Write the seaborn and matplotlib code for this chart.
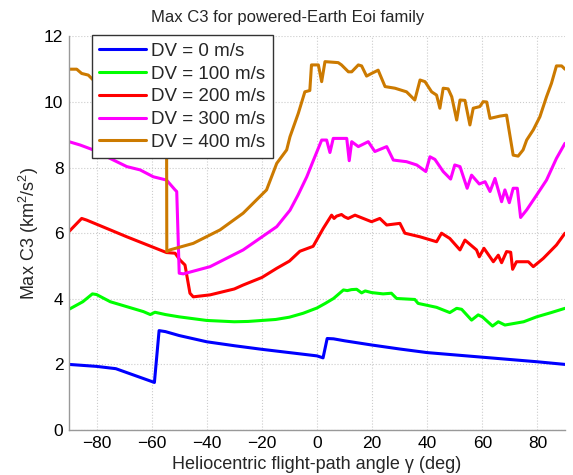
import numpy as np
import pandas as pd
import matplotlib
matplotlib.use('Agg')
import matplotlib.pyplot as plt
import seaborn as sns

# Heliocentric flight-path angle (deg) and max C3 (km^2/s^2)
gamma_dv0 = [-90, -80, -73, -59, -57.3, -55, -50, -40, -30, -20, -10, 0, 2.2, 3.7, 6, 10,
             20, 30, 40, 50, 60, 70, 80, 90]
c3_dv0 = [2.0, 1.94, 1.87, 1.45, 3.03, 3.0, 2.88, 2.69, 2.57, 2.46, 2.36, 2.26, 2.2, 2.79,
          2.78, 2.72, 2.59, 2.47, 2.36, 2.29, 2.22, 2.15, 2.08, 2.0]

gamma_dv100 = [-90, -85, -81.5, -80, -75, -69, -63, -60.5, -58.8, -55, -50, -40, -30, -25,
               -15, -10, -5, 0, 3, 6, 9.6, 11, 12.5, 14.4, 16.2, 17.5, 19.8, 24, 27, 28.9,
               35.5, 36.7, 43.4, 48.2, 50.7, 52.5, 56.1, 58.5, 60, 63.7, 65.8, 68.2, 75,
               79.7, 85, 90]
c3_dv100 = [3.68, 3.91, 4.15, 4.13, 3.91, 3.76, 3.61, 3.52, 3.59, 3.52, 3.45, 3.34, 3.3,
            3.31, 3.37, 3.44, 3.56, 3.72, 3.86, 4.01, 4.27, 4.25, 4.28, 4.29, 4.18, 4.24,
            4.19, 4.15, 4.17, 4.01, 3.98, 3.86, 3.74, 3.58, 3.71, 3.68, 3.35, 3.51, 3.45,
            3.17, 3.3, 3.2, 3.3, 3.45, 3.58, 3.71]

gamma_dv200 = [-90, -85.4, -83.6, -75, -69, -63, -57, -54.6, -51.5, -49.7, -47.9, -46.1,
               -44.9, -38.8, -30, -26.8, -20, -14.6, -10, -6.2, -1.4, 2.3, 5.3, 6.2, 7.1,
               8.9, 10, 11.3, 13.8, 16.8, 19.8, 22.8, 25.3, 30.1, 31.9, 37.4, 43.4, 45.2,
               48.2, 51.9, 53.7, 57.9, 58.9, 60.6, 64, 65.8, 67, 68.8, 70.3, 71, 72.4,
               76.7, 78.5, 82.1, 86.9, 90]
c3_dv200 = [6.05, 6.45, 6.4, 6.1, 5.89, 5.69, 5.49, 5.41, 5.39, 5.18, 5.03, 4.17, 4.06,
            4.12, 4.3, 4.42, 4.65, 4.93, 5.15, 5.45, 5.6, 6.15, 6.55, 6.45, 6.52, 6.57, 6.5,
            6.45, 6.55, 6.45, 6.35, 6.45, 6.25, 6.3, 6.0, 5.89, 5.74, 6.0, 5.84, 5.49,
            5.79, 5.49, 5.28, 5.54, 5.13, 5.33, 5.1, 5.44, 5.42, 4.9, 5.13, 5.13, 4.98,
            5.23, 5.64, 6.0]

gamma_dv300 = [-90, -86, -81.2, -75.1, -69, -64.2, -59.4, -57, -54.6, -51.5, -50.9, -50,
               -48.5, -38.8, -26.8, -14.6, -9.8, -6.9, -3.7, -1.5, 1.7, 3.5, 4.7, 5.9, 10.8,
               11.7, 12.6, 15, 18.6, 21, 25.3, 27.7, 32.5, 36.2, 39.5, 41, 42.8, 45.8, 48.5,
               50, 51.9, 54.5, 56.1, 58.9, 61, 62.8, 64.6, 67, 68.2, 69.8, 71.2, 72.7, 73.9,
               76.1, 79.7, 83.3, 86.9, 90]
c3_dv300 = [8.79, 8.69, 8.54, 8.28, 8.03, 7.93, 7.72, 7.67, 7.62, 7.32, 7.27, 4.78, 4.76,
            4.98, 5.49, 6.2, 6.7, 7.16, 7.72, 8.18, 8.84, 8.84, 8.46, 8.89, 8.89, 8.21,
            8.79, 8.64, 8.79, 8.49, 8.64, 8.23, 8.18, 8.08, 7.88, 8.33, 8.25, 7.88, 7.65,
            8.08, 8.03, 7.37, 7.77, 7.5, 7.57, 7.27, 7.67, 6.96, 7.32, 6.93, 7.37, 7.37,
            6.48, 6.71, 7.16, 7.62, 8.28, 8.74]

gamma_dv400 = [-90, -87.2, -85.4, -83, -81.2, -75, -65, -54.6, -54.5, -53.4, -44.9, -35.2,
               -26.8, -18.3, -14.6, -11, -9.8, -6.8, -4.4, -2.6, -2.0, -1.4, 0.5, 1.7, 2.9,
               7.7, 8.9, 11.4, 12.6, 15, 16.2, 18, 19.8, 22.2, 24.7, 28.3, 32.5, 35.5, 37.4,
               39.2, 41.6, 43.4, 44.6, 45.8, 47.6, 48.9, 50.7, 51.9, 53.7, 55.5, 56.7, 59.1,
               60.3, 61.6, 62.8, 66.4, 68.8, 71.2, 73, 74.8, 76.1, 78.5, 80.9, 83.3, 85.1,
               86.9, 88.8, 90]
c3_dv400 = [11.0, 11.0, 10.87, 10.82, 10.67, 10.4, 10.1, 9.8, 5.44, 5.49, 5.69, 6.1, 6.61,
            7.32, 8.13, 8.54, 8.94, 9.65, 10.31, 10.35, 11.13, 11.13, 11.13, 10.62, 11.23,
            11.2, 11.13, 10.92, 10.92, 11.13, 11.1, 10.79, 10.87, 10.97, 10.47, 10.42,
            10.31, 10.06, 10.67, 10.62, 10.31, 10.21, 9.81, 10.42, 10.4, 10.16, 9.45, 10.06,
            10.05, 9.3, 9.81, 9.86, 10.01, 10.0, 9.5, 9.57, 9.6, 8.38, 8.35, 8.54, 8.84,
            9.15, 9.55, 10.16, 10.57, 11.1, 11.1, 11.0]

labels = ['DV = 0 m/s', 'DV = 100 m/s', 'DV = 200 m/s', 'DV = 300 m/s', 'DV = 400 m/s']
colors = ['#0000FF', '#00FF00', '#FF0000', '#FF00FF', '#CC7A00']

series = [(gamma_dv0, c3_dv0), (gamma_dv100, c3_dv100), (gamma_dv200, c3_dv200),
          (gamma_dv300, c3_dv300), (gamma_dv400, c3_dv400)]
frames = []
for lab, (g, c) in zip(labels, series):
    frames.append(pd.DataFrame({'gamma': g, 'c3': c, 'case': lab}))
df = pd.concat(frames, ignore_index=True)

sns.set_theme(style='white')
plt.rcParams['font.family'] = ['Liberation Sans', 'DejaVu Sans']
plt.rcParams['mathtext.fontset'] = 'custom'
plt.rcParams['mathtext.rm'] = 'Liberation Sans'
plt.rcParams['mathtext.it'] = 'Liberation Sans'

fig = plt.figure(figsize=(5.73, 4.75), dpi=100)
ax = fig.add_axes([0.1204, 0.0947, 0.8656, 0.8287])

sns.lineplot(data=df, x='gamma', y='c3', hue='case', hue_order=labels,
             palette=dict(zip(labels, colors)), estimator=None, sort=False,
             linewidth=2.2, ax=ax)

ax.set_xlim(-90, 90)
ax.set_ylim(0, 12)
ax.set_xticks(np.arange(-80, 81, 20))
ax.set_yticks(np.arange(0, 13, 2))
ax.grid(True, linestyle=':', color='#cccccc', linewidth=0.8)
ax.tick_params(direction='in', length=4, width=0.8, color='#999999',
               labelsize=12.5, labelcolor='black', pad=4)
for side in ['top', 'right']:
    ax.spines[side].set_visible(False)
for side in ['left', 'bottom']:
    ax.spines[side].set_color('#999999')
    ax.spines[side].set_linewidth(1.0)

ax.set_xlabel('Heliocentric flight-path angle γ (deg)', fontsize=13, labelpad=4)
ax.set_ylabel('Max C3 (km$^2$/s$^2$)', fontsize=13, labelpad=2)
ax.set_title('Max C3 for powered-Earth Eoi family', fontsize=12, pad=10, x=0.4415)

handles, labs = ax.get_legend_handles_labels()
ax.legend(handles, labs, loc='upper left', bbox_to_anchor=(0.046, 1.003),
          frameon=True, fancybox=False, edgecolor='#333333', framealpha=1,
          fontsize=13.5, handlelength=2.5, handletextpad=0.25, borderpad=0.4,
          labelspacing=0.3, borderaxespad=0)

fig.savefig('out.png', dpi=100)
